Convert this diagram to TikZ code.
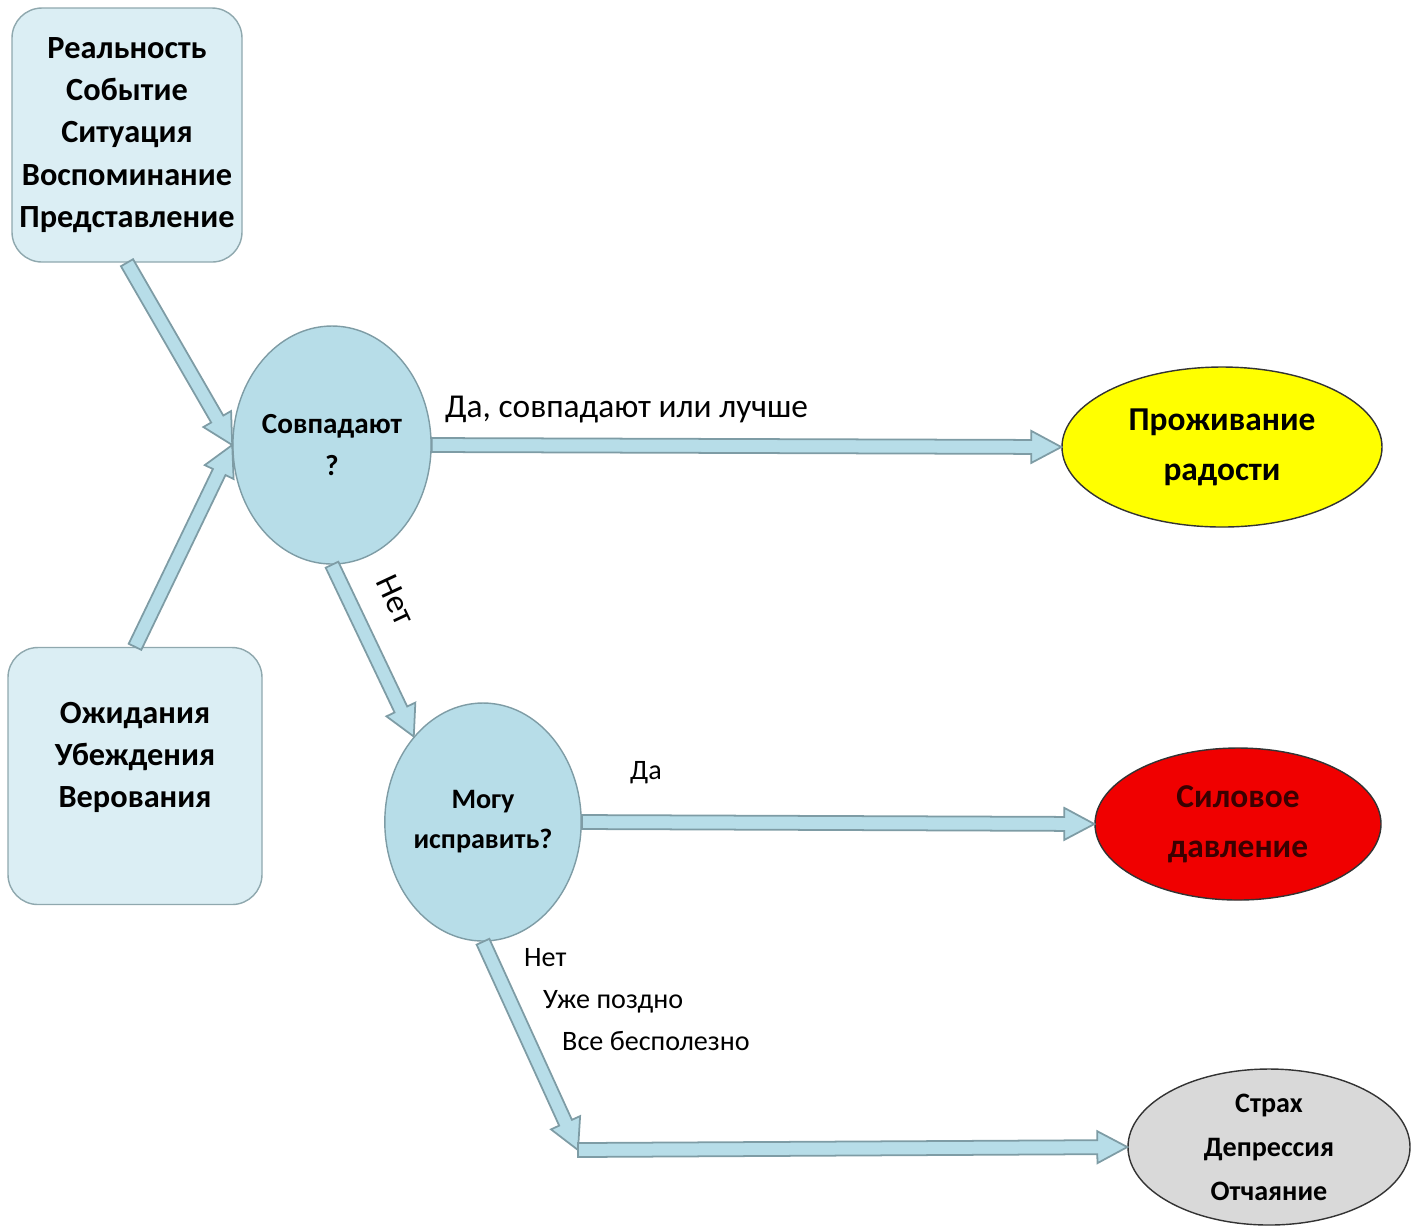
\documentclass[tikz,border=0pt]{standalone}
\usepackage{fontspec}
\setmainfont{Carlito}
\usetikzlibrary{shapes.geometric,calc}

\definecolor{boxfill}{HTML}{DBEEF4}
\definecolor{boxline}{HTML}{8FA8AE}
\definecolor{ballfill}{HTML}{B7DDE8}
\definecolor{arrowline}{HTML}{7E9CA5}
\definecolor{joyfill}{HTML}{FFFF00}
\definecolor{forcefill}{HTML}{F00000}
\definecolor{forcetext}{HTML}{3A0000}
\definecolor{fearfill}{HTML}{D9D9D9}

% flat arrow with a broad head, from #1 to #2
\newcommand{\blockarrow}[2]{%
  \coordinate (h) at ($(#2)!3mm!(#1)$);
  \draw[arrowbody] ($(#1)!0.7mm!90:(#2)$) -- ($(h)!0.7mm!90:(#2)$)
    -- ($(h)!1.6mm!90:(#2)$) -- (#2) -- ($(h)!1.6mm!-90:(#2)$)
    -- ($(h)!0.7mm!-90:(#2)$) -- ($(#1)!0.7mm!-90:(#2)$) -- cycle;
}

\begin{document}
\begin{tikzpicture}[x=0.1mm,y=-0.1mm,
    arrowbody/.style={draw=arrowline,fill=ballfill,line width=0.5pt,line join=miter}]
      \useasboundingbox (0,0) rectangle (1413,1230);
      \begin{scope}[every node/.style={rectangle,rounded corners=3mm,draw=boxline,fill=boxfill,
          align=center,inner sep=1pt,font=\bfseries\fontsize{9.2}{12}\selectfont}]
        \node[minimum width=23mm,minimum height=25.4mm] (real) at (127,135)
          {Реальность\\Событие\\Ситуация\\Воспоминание\\Представление};
        \node[minimum width=25.4mm,minimum height=25.7mm] (expect) at (135,776)
          {Ожидания\\Убеждения\\Верования\\\mbox{}};
      \end{scope}
      \begin{scope}[every node/.style={ellipse,draw=arrowline,fill=ballfill,inner sep=0pt,
          minimum width=19.1mm,minimum height=23.8mm,align=center}]
        \node[font=\bfseries\fontsize{8.3}{12}\selectfont] (match) at (332,445) {Совпадают\\?};
        \node[font=\bfseries\fontsize{8}{11.4}\selectfont] (fix) at (483,822) {Могу\\исправить?};
      \end{scope}
      \begin{scope}[every node/.style={ellipse,draw=black!80,inner sep=0pt,align=center}]
        \node[fill=joyfill,minimum width=32mm,minimum height=16mm,
          font=\bfseries\fontsize{9.5}{14.2}\selectfont] (joy) at (1222,447) {Проживание\\радости};
        \node[fill=forcefill,minimum width=28.6mm,minimum height=15.2mm,text=forcetext,
          font=\bfseries\fontsize{9.5}{14.2}\selectfont] (force) at (1238,824) {Силовое\\давление};
        \node[fill=fearfill,minimum width=28.2mm,minimum height=15.6mm,
          font=\bfseries\fontsize{8}{12.5}\selectfont] (fear) at (1269,1147) {Страх\\Депрессия\\Отчаяние};
      \end{scope}
      \coordinate (bend) at (578,1150);

      \blockarrow{real.south}{match.west}
      \blockarrow{expect.north}{match.west}
      \blockarrow{match.east}{joy.west}
      \blockarrow{match.south}{fix.129}
      \blockarrow{fix.east}{force.west}
      \blockarrow{fix.south}{bend}
      \blockarrow{bend}{fear.west}

      \begin{scope}[every node/.style={font=\fontsize{9.5}{12}\selectfont,inner sep=1pt}]
        \node[anchor=west] (yes1) at (441,410) {Да, совпадают или лучше};
        \node[rotate=-65] (no1) at (396,600) {Нет};
        \node[anchor=west,font=\fontsize{8}{12}\selectfont] (yes2) at (626,773) {Да};
        \node[anchor=north west,align=left,font=\fontsize{8}{12}\selectfont] (no2) at (520,944)
          {Нет\\\hspace*{1.9mm}Уже поздно\\\hspace*{3.8mm}Все бесполезно};
      \end{scope}
    \end{tikzpicture}
\end{document}
